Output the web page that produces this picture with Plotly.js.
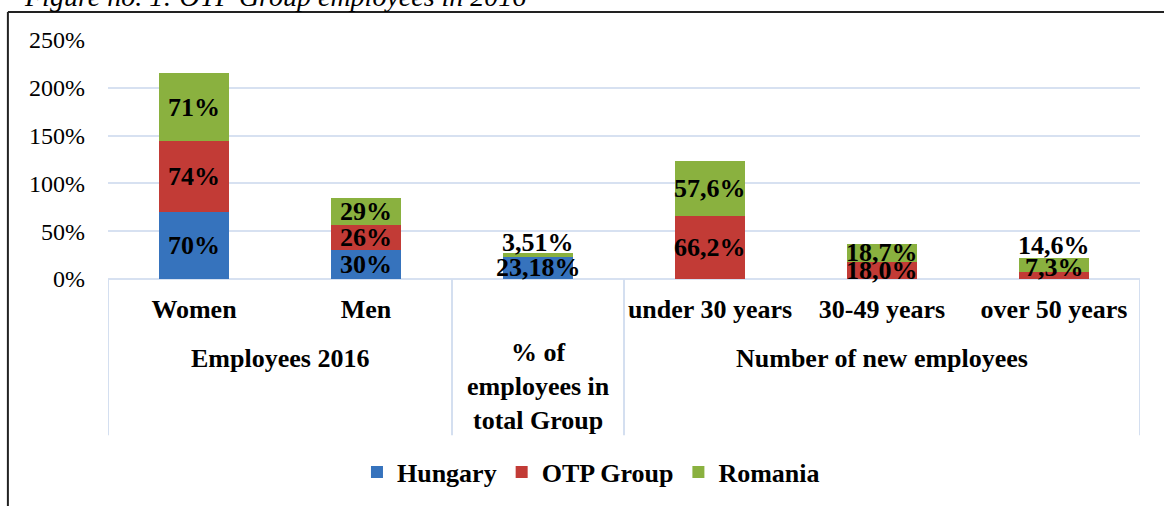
<!DOCTYPE html>
<html>
<head>
<meta charset="utf-8">
<script src="https://cdn.plot.ly/plotly-3.0.1.min.js"></script>
<style>
  html, body { margin: 0; padding: 0; background: #fff; }
  #chart { width: 1164px; height: 506px; }
</style>
</head>
<body>
<div id="chart"></div>
<script>
// ---- data ----
const categories = ['Women', 'Men', ' ', 'under 30 years', '30-49 years', 'over 50 years'];
const hungary = [70, 30, 23.18, null, null, null];
const otpGroup = [74, 26, null, 66.2, 18.0, 7.3];
const romania = [71, 29, 3.51, 57.6, 18.7, 14.6];
const labelDecimals = [0, 0, 2, 1, 1, 1];
const groupLabels = ['Employees 2016', '% of<br>employees in<br>total Group', 'Number of new employees'];
const groupFirst = [0, 2, 3];
const groupLast = [1, 2, 5];
const yTicks = [0, 50, 100, 150, 200, 250];
const titleText = 'Figure no. 1: OTP Group employees in 2016';

// ---- style ----
const FONT = 'Liberation Serif, Times New Roman, serif';
const seriesDefs = [
  { name: 'Hungary', values: hungary, color: '#3673bd' },
  { name: 'OTP Group', values: otpGroup, color: '#c23b36' },
  { name: 'Romania', values: romania, color: '#8ab13f' }
];
// label nudges (pixels upward) for labels moved off their segments
const labelNudge = { 'Romania|2': 13, 'OTP Group|5': 8, 'Romania|5': 20 };

const traces = seriesDefs.map(s => ({
  type: 'bar',
  name: s.name,
  x: categories,
  y: s.values,
  marker: { color: s.color },
  hoverinfo: 'none'
}));

function fmt(v, d) {
  return v.toFixed(d).replace('.', ',') + '%';
}

const annotations = [];
const base = categories.map(() => 0);
seriesDefs.forEach(s => {
  s.values.forEach((v, i) => {
    if (v === null || v === undefined) return;
    annotations.push({
      x: categories[i], y: base[i] + v / 2, xref: 'x', yref: 'y',
      text: fmt(v, labelDecimals[i]), showarrow: false,
      yshift: labelNudge[s.name + '|' + i] || 0,
      font: { family: FONT, size: 26, color: '#000', weight: 'bold' }
    });
    base[i] += v;
  });
});

// group labels below the category labels
groupLabels.forEach((g, k) => {
  const multi = g.indexOf('<br>') >= 0;
  annotations.push({
    x: (groupFirst[k] + groupLast[k]) / 2, xref: 'x',
    y: multi ? -0.45 : -0.333, yref: 'paper', yanchor: 'middle',
    text: g, showarrow: false,
    font: { family: FONT, size: 26, color: '#000', weight: 'bold' }
  });
});

// figure caption (cut at the top)
annotations.push({
  x: -0.083, xref: 'paper', xanchor: 'left',
  y: 1.108, yref: 'paper', yanchor: 'bottom',
  text: titleText, showarrow: false,
  font: { family: FONT, size: 28, color: '#000', style: 'italic' }
});

const shapes = [];
// group dividers
const dividerPos = [groupFirst[0] - 0.5].concat(groupLast.map(v => v + 0.5));
dividerPos.forEach(p => {
  shapes.push({
    type: 'line', xref: 'x', yref: 'paper', x0: p, x1: p, y0: 0, y1: -0.654,
    line: { color: '#d4dff0', width: 2 }
  });
});
// outer frame (top and left)
shapes.push({ type: 'line', xref: 'paper', yref: 'paper', x0: -0.097, x1: 1.1, y0: 1.117, y1: 1.117, line: { color: '#222', width: 2 } });
shapes.push({ type: 'line', xref: 'paper', yref: 'paper', x0: -0.097, x1: -0.097, y0: 1.117, y1: -1.0, line: { color: '#222', width: 2 } });

const layout = {
  width: 1164, height: 506,
  margin: { l: 108, r: 24, t: 40, b: 226 },
  paper_bgcolor: '#fff', plot_bgcolor: '#fff',
  barmode: 'stack', bargap: 0.59,
  font: { family: FONT, size: 24, color: '#000' },
  showlegend: true,
  legend: {
    orientation: 'h', x: 0.468, xanchor: 'center', y: -0.8, yanchor: 'middle',
    xref: 'paper', yref: 'paper',
    font: { family: FONT, size: 26, color: '#000', weight: 'bold' },
    bgcolor: 'rgba(0,0,0,0)', traceorder: 'normal'
  },
  xaxis: {
    type: 'category', range: [-0.5, 5.5], fixedrange: true,
    showgrid: false, zeroline: false, showline: false, ticks: '',
    ticklabelstandoff: 12,
    tickfont: { family: FONT, size: 26, color: '#000', weight: 'bold' }
  },
  yaxis: {
    range: [0, 250], tickvals: yTicks, ticktext: yTicks.map(v => v + '%'),
    showgrid: true, gridcolor: '#d7e1f1', gridwidth: 2,
    zeroline: true, zerolinecolor: '#d7e1f1', zerolinewidth: 2,
    showline: false, ticks: '', ticklabelstandoff: 22,
    tickfont: { family: FONT, size: 24, color: '#000' }
  },
  annotations: annotations,
  shapes: shapes
};

Plotly.newPlot('chart', traces, layout, { staticPlot: true, displayModeBar: false });
</script>
</body>
</html>
